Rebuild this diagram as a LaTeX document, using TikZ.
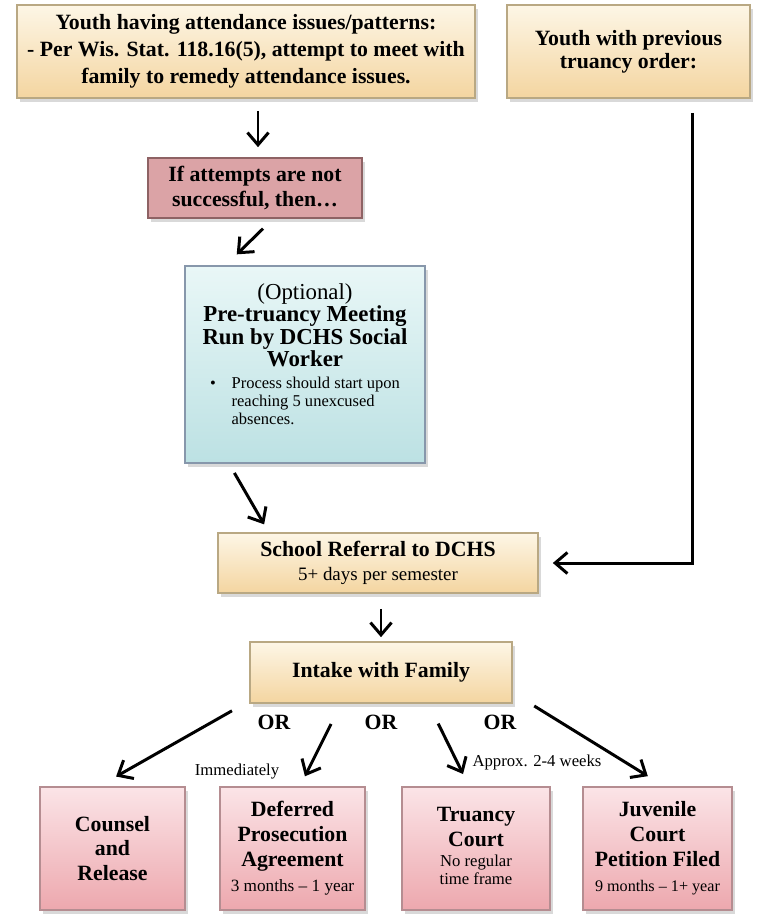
\documentclass[tikz,border=0pt]{standalone}
\usepackage{fontspec}
\setmainfont{Liberation Serif}
\usetikzlibrary{arrows.meta,shadows}

\definecolor{ytop}{HTML}{FDF6E6}
\definecolor{ybot}{HTML}{F4D5A0}
\definecolor{ybord}{HTML}{B9A883}
\definecolor{rfill}{HTML}{DBA3A6}
\definecolor{rbord}{HTML}{8E6264}
\definecolor{btop}{HTML}{E9F7F7}
\definecolor{bbot}{HTML}{BCE1E3}
\definecolor{bbord}{HTML}{8797AB}
\definecolor{ptop}{HTML}{FBE4E7}
\definecolor{pbot}{HTML}{EDA8AE}
\definecolor{pbord}{HTML}{B58D91}

\tikzset{
        box/.style={draw, line width=1pt, align=center, inner sep=0pt,
                drop shadow={opacity=0.3, shadow xshift=0.06cm, shadow yshift=-0.08cm}},
        ybox/.style={box, draw=ybord, top color=ytop, bottom color=ybot},
        rbox/.style={box, draw=rbord, fill=rfill},
        bbox/.style={box, draw=bbord, top color=btop, bottom color=bbot},
        pbox/.style={box, draw=pbord, top color=ptop, bottom color=pbot,
                minimum height=2.46cm, font=\fontsize{12.4}{14.2}\selectfont\bfseries},
        arr/.style={-{Straight Barb[length=7pt,width=12pt]}, line width=1.7pt},
        orlbl/.style={font=\fontsize{12.4}{14}\selectfont\bfseries},
        timelbl/.style={font=\fontsize{9.5}{11}\selectfont},
}

\begin{document}
\begin{tikzpicture}[x=0.02cm, y=-0.02cm]
        \useasboundingbox (0,0) rectangle (757,914);
        \node[ybox, minimum width=9.16cm, minimum height=1.86cm, font=\fontsize{12.4}{15.4}\selectfont\bfseries] (yth) at (246,51.5)
                {Youth having attendance issues/patterns:\\- Per Wis. Stat. 118.16(5), attempt to meet with\\family to remedy attendance issues.};
        \node[ybox, minimum width=4.86cm, minimum height=1.86cm, font=\fontsize{12.4}{13.2}\selectfont\bfseries] (yprev) at (628.5,51.5)
                {Youth with previous\\truancy order:};
        \node[rbox, minimum width=4.28cm, minimum height=1.2cm, font=\fontsize{12.4}{14.2}\selectfont\bfseries] (ifno) at (255,188)
                {If attempts are not\\successful, then…};
        \node[bbox, minimum width=4.8cm, minimum height=3.94cm, font=\fontsize{13}{12.8}\selectfont] (opt) at (305,364.5)
                {(Optional)\\\textbf{Pre-truancy Meeting}\\\textbf{Run by DCHS Social}\\\textbf{Worker}\\[4pt]
                \fontsize{9.4}{10.3}\selectfont\begin{tabular}{@{}l@{\hspace{9pt}}l@{}}\textbullet & Process should start upon\\ & reaching 5 unexcused\\ & absences.\end{tabular}\\[8pt]};
        \node[ybox, minimum width=6.4cm, minimum height=1.2cm, font=\fontsize{12.4}{13.6}\selectfont] (school) at (378,563)
                {\textbf{School Referral to DCHS}\\\fontsize{10.8}{12}\selectfont 5+ days per semester};
        \node[ybox, minimum width=5.24cm, minimum height=1.22cm, font=\fontsize{12.4}{14}\selectfont\bfseries] (intake) at (381,672.5)
                {Intake with Family};
        \node[pbox, minimum width=2.9cm] (counsel) at (112.5,848.5) {Counsel\\and\\Release};
        \node[pbox, minimum width=2.9cm] (defer) at (292.5,848.5)
                {Deferred\\Prosecution\\Agreement\\\fontsize{9.8}{11}\selectfont\mdseries 3 months -- 1 year};
        \node[pbox, minimum width=2.96cm] (tcourt) at (476,848.5)
                {Truancy\\Court\\[3pt]\fontsize{9.5}{10.2}\selectfont\mdseries\begin{tabular}{@{}c@{}}No regular\\time frame\end{tabular}};
        \node[pbox, minimum width=2.98cm] (juv) at (657.5,848.5)
                {Juvenile\\Court\\Petition Filed\\\fontsize{9.2}{11}\selectfont\mdseries 9 months -- 1+ year};
        \node[orlbl] (or1) at (274,722) {OR};
        \node[orlbl] (or2) at (381,722) {OR};
        \node[orlbl] (or3) at (500,722) {OR};
        \node[timelbl] (immed) at (237,771) {Immediately};
        \node[timelbl] (approx) at (537,762) {Approx. 2-4 weeks};
        \draw[arr, shorten <=0.24cm, shorten >=0.2cm] ([xshift=0.06cm]ifno.north |- yth.south) -- ([xshift=0.06cm]ifno.north);
        \draw[arr, shorten <=0.28cm, shorten >=0.31cm] ([xshift=0.36cm]ifno.south) -- ([xshift=0.83cm]opt.north west);
        \draw[arr, shorten <=0.21cm, shorten >=0.18cm] ([xshift=0.9cm]opt.south west) -- ([xshift=1.03cm]school.north west);
        \draw[arr, shorten <=0.28cm, shorten >=0.28cm] ([xshift=1.29cm]yprev.south) |- (school.east);
        \draw[arr, shorten <=0.3cm, shorten >=0.08cm] (intake.north |- school.south) -- (intake.north);
        \draw[arr, shorten <=0.28cm, shorten >=0.39cm] ([xshift=-0.1cm]intake.south west) -- ([xshift=1.2cm]counsel.north west);
        \draw[arr, shorten <=0.45cm, shorten >=0.22cm] ([xshift=1.84cm]intake.south west) -- ([xshift=0.15cm]defer.north);
        \draw[arr, shorten <=0.44cm, shorten >=0.27cm] ([xshift=0.95cm]intake.south) -- ([xshift=-0.14cm]tcourt.north);
        \draw[arr, shorten <=0.08cm, shorten >=0.38cm] ([xshift=0.36cm]intake.south east) -- ([xshift=0.13cm]juv.north);
\end{tikzpicture}
\end{document}
